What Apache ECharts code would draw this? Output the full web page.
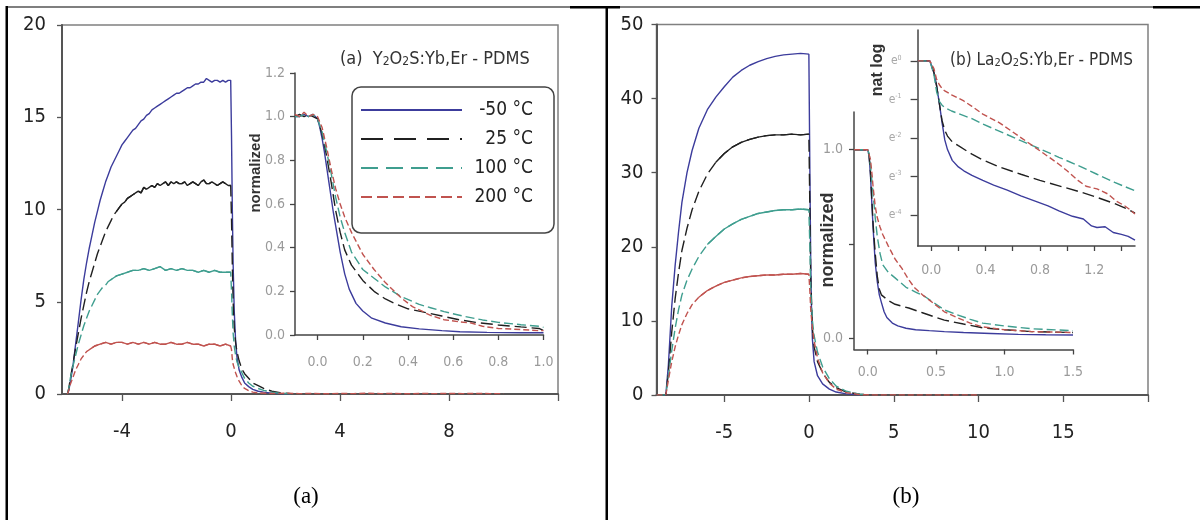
<!DOCTYPE html>
<html>
<head>
<meta charset="utf-8">
<script src="https://cdn.jsdelivr.net/npm/echarts@6/dist/echarts.min.js"></script>
<style>
  html, body { margin: 0; padding: 0; background: #fff; }
  #chart { width: 1200px; height: 520px; }
</style>
</head>
<body>
<div id="chart"></div>
<script>
// ---- Series labels and tick positions ----
const seriesNames = ['-50 °C', '25 °C', '100 °C', '200 °C'];
const aMainXTicks = [-4, 0, 4, 8];
const aMainYTicks = [0, 5, 10, 15, 20];
const aInsetXTicks = [0.0, 0.2, 0.4, 0.6, 0.8, 1.0];
const aInsetYTicks = [0.0, 0.2, 0.4, 0.6, 0.8, 1.0, 1.2];
const bMainXTicks = [-5, 0, 5, 10, 15];
const bMainYTicks = [0, 10, 20, 30, 40, 50];
const bNormXTicks = [0.0, 0.5, 1.0, 1.5];
const bNormYTicks = [0.0, 0.5, 1.0];
const bNormYLabels = [0.0, 1.0];
const bLogXTicks = [0.0, 0.2, 0.4, 0.6, 0.8, 1.0, 1.2, 1.4];
const bLogXLabels = [0.0, 0.4, 0.8, 1.2];
const bLogYTicks = [0, -1, -2, -3, -4];

// ---- (a) Y2O2S:Yb,Er - PDMS : intensity vs time ----
const aMainM50 = [[-6.0,0],[-5.95,0.2],[-5.9,0.6],[-5.8,1.5],[-5.7,2.7],[-5.6,3.9],[-5.5,5.1],[-5.4,6.2],[-5.3,7.1],[-5.2,7.9],[-5.1,8.6],[-5.0,9.3],[-4.9,9.9],[-4.8,10.5],[-4.7,11.0],[-4.6,11.5],[-4.5,11.9],[-4.4,12.3],[-4.3,12.6],[-4.2,12.9],[-4.1,13.2],[-4.0,13.5],[-3.9,13.7],[-3.8,13.9],[-3.7,14.1],[-3.6,14.3],[-3.5,14.4],[-3.4,14.6],[-3.3,14.8],[-3.2,14.9],[-3.1,15.1],[-3.0,15.2],[-2.9,15.4],[-2.8,15.5],[-2.7,15.6],[-2.6,15.7],[-2.5,15.8],[-2.4,15.9],[-2.3,16.0],[-2.2,16.1],[-2.1,16.2],[-2.0,16.3],[-1.9,16.3],[-1.8,16.4],[-1.7,16.5],[-1.6,16.6],[-1.5,16.6],[-1.4,16.7],[-1.3,16.8],[-1.2,16.8],[-1.1,16.9],[-1.0,16.9],[-0.9,17.1],[-0.8,17.0],[-0.7,16.9],[-0.6,17.0],[-0.5,17.0],[-0.4,16.9],[-0.3,17.0],[-0.2,16.9],[-0.1,17.0],[-0.01,17.0],[0.02,14.0],[0.05,10.0],[0.08,7.0],[0.12,4.5],[0.17,2.9],[0.22,2.0],[0.3,1.3],[0.4,0.9],[0.5,0.6],[0.65,0.4],[0.8,0.25],[1.0,0.15],[1.2,0.1],[1.5,0.05],[1.8,0.02],[2.2,0.01]];
const aMain25 = [[-6.0,0],[-5.95,0.3],[-5.9,0.8],[-5.8,1.6],[-5.7,2.5],[-5.6,3.3],[-5.5,4.1],[-5.4,4.8],[-5.3,5.5],[-5.2,6.1],[-5.1,6.6],[-5.0,7.1],[-4.9,7.6],[-4.8,8.0],[-4.7,8.4],[-4.6,8.8],[-4.5,9.1],[-4.4,9.4],[-4.3,9.7],[-4.2,9.9],[-4.1,10.1],[-4.0,10.3],[-3.9,10.4],[-3.8,10.6],[-3.7,10.7],[-3.6,10.8],[-3.5,10.9],[-3.4,11.0],[-3.3,10.9],[-3.2,11.2],[-3.1,11.1],[-3.0,11.2],[-2.9,11.3],[-2.8,11.2],[-2.7,11.4],[-2.6,11.3],[-2.5,11.4],[-2.4,11.5],[-2.3,11.3],[-2.2,11.5],[-2.1,11.4],[-2.0,11.5],[-1.9,11.4],[-1.8,11.4],[-1.7,11.5],[-1.6,11.3],[-1.5,11.4],[-1.4,11.5],[-1.3,11.4],[-1.2,11.3],[-1.1,11.5],[-1.0,11.6],[-0.9,11.4],[-0.8,11.4],[-0.7,11.5],[-0.6,11.4],[-0.5,11.3],[-0.4,11.4],[-0.3,11.5],[-0.2,11.4],[-0.1,11.3],[-0.01,11.3],[0.02,9.5],[0.05,7.0],[0.08,5.0],[0.12,3.6],[0.17,2.8],[0.22,2.3],[0.3,1.8],[0.4,1.35],[0.5,1.1],[0.65,0.85],[0.8,0.6],[1.0,0.45],[1.2,0.3],[1.5,0.15],[1.8,0.07],[2.2,0.02]];
const aMain100 = [[-6.0,0],[-5.95,0.3],[-5.9,0.8],[-5.8,1.5],[-5.7,2.1],[-5.6,2.7],[-5.5,3.2],[-5.4,3.7],[-5.3,4.1],[-5.2,4.5],[-5.1,4.8],[-5.0,5.1],[-4.9,5.4],[-4.8,5.6],[-4.7,5.8],[-4.6,5.9],[-4.5,6.1],[-4.4,6.2],[-4.3,6.3],[-4.2,6.4],[-4.0,6.5],[-3.8,6.6],[-3.6,6.7],[-3.4,6.7],[-3.2,6.8],[-3.0,6.7],[-2.8,6.8],[-2.6,6.9],[-2.4,6.7],[-2.2,6.8],[-2.0,6.7],[-1.8,6.8],[-1.6,6.7],[-1.4,6.7],[-1.2,6.6],[-1.0,6.7],[-0.8,6.6],[-0.6,6.7],[-0.4,6.6],[-0.2,6.6],[-0.01,6.6],[0.02,5.6],[0.05,4.3],[0.08,3.3],[0.12,2.6],[0.17,2.1],[0.22,1.75],[0.3,1.45],[0.4,1.15],[0.5,0.85],[0.65,0.6],[0.8,0.42],[1.0,0.3],[1.2,0.2],[1.5,0.1],[1.8,0.04],[2.2,0.01]];
const aMain200 = [[-6.0,0],[-5.95,0.2],[-5.9,0.5],[-5.8,0.9],[-5.7,1.3],[-5.6,1.6],[-5.5,1.9],[-5.4,2.1],[-5.3,2.3],[-5.2,2.4],[-5.1,2.5],[-5.0,2.6],[-4.8,2.7],[-4.6,2.8],[-4.4,2.7],[-4.2,2.8],[-4.0,2.8],[-3.8,2.7],[-3.6,2.8],[-3.4,2.7],[-3.2,2.8],[-3.0,2.7],[-2.8,2.8],[-2.6,2.7],[-2.4,2.7],[-2.2,2.8],[-2.0,2.7],[-1.8,2.7],[-1.6,2.8],[-1.4,2.7],[-1.2,2.7],[-1.0,2.6],[-0.8,2.7],[-0.6,2.7],[-0.4,2.6],[-0.2,2.7],[-0.01,2.6],[0.02,2.4],[0.05,1.9],[0.08,1.6],[0.12,1.4],[0.17,1.15],[0.22,0.95],[0.3,0.7],[0.4,0.45],[0.5,0.3],[0.65,0.18],[0.8,0.1],[1.0,0.06],[1.5,0.03],[2.0,0.04],[2.5,0.02],[3.0,0.03],[3.5,0.01],[4.0,0.03],[4.5,0.02],[5.0,0.04],[5.5,0.02],[6.0,0.03],[6.5,0.01],[7.0,0.03],[7.5,0.02],[8.0,0.03],[8.5,0.02],[9.0,0.03],[9.5,0.02],[10.0,0.02]];

// (a) inset : normalized decay
const aNormM50 = [[-0.1,1.0],[-0.08,1.0],[-0.06,1.01],[-0.04,1.0],[-0.02,1.01],[0.0,0.99],[0.01,0.95],[0.02,0.9],[0.03,0.84],[0.04,0.77],[0.05,0.7],[0.06,0.63],[0.07,0.56],[0.085,0.47],[0.1,0.38],[0.12,0.28],[0.14,0.21],[0.17,0.145],[0.2,0.11],[0.24,0.077],[0.3,0.055],[0.37,0.038],[0.45,0.028],[0.55,0.02],[0.63,0.015],[0.75,0.012],[0.9,0.01],[1.0,0.01]];
const aNorm25 = [[-0.1,1.0],[-0.08,1.01],[-0.06,1.0],[-0.04,1.01],[-0.02,1.0],[0.0,0.99],[0.02,0.92],[0.04,0.82],[0.06,0.7],[0.08,0.57],[0.1,0.47],[0.12,0.39],[0.15,0.32],[0.2,0.25],[0.25,0.2],[0.3,0.165],[0.35,0.14],[0.4,0.12],[0.46,0.107],[0.55,0.087],[0.63,0.069],[0.7,0.058],[0.8,0.046],[0.9,0.037],[0.98,0.03],[1.0,0.02]];
const aNorm100 = [[-0.1,1.0],[-0.08,1.0],[-0.06,1.01],[-0.04,1.0],[-0.02,1.01],[0.0,0.99],[0.02,0.93],[0.04,0.84],[0.06,0.74],[0.08,0.63],[0.1,0.54],[0.12,0.47],[0.15,0.38],[0.2,0.3],[0.25,0.26],[0.3,0.22],[0.37,0.176],[0.45,0.14],[0.5,0.125],[0.56,0.107],[0.65,0.085],[0.73,0.069],[0.8,0.058],[0.9,0.047],[0.98,0.04],[1.0,0.035]];
const aNorm200 = [[-0.1,1.01],[-0.08,1.0],[-0.06,1.02],[-0.04,1.0],[-0.02,1.01],[0.0,1.0],[0.02,0.95],[0.04,0.86],[0.06,0.76],[0.08,0.67],[0.1,0.6],[0.12,0.54],[0.15,0.47],[0.2,0.37],[0.25,0.3],[0.3,0.24],[0.37,0.17],[0.42,0.13],[0.46,0.11],[0.5,0.09],[0.56,0.07],[0.63,0.06],[0.68,0.055],[0.73,0.04],[0.8,0.03],[0.9,0.025],[0.98,0.02],[1.0,0.02]];

// ---- (b) La2O2S:Yb,Er - PDMS : intensity vs time ----
const bMainM50 = [[-9.0,0],[-8.6,0],[-8.45,0],[-8.3,4],[-8.1,12],[-7.9,17.5],[-7.7,22],[-7.5,26],[-7.2,30],[-6.9,33],[-6.5,36],[-6.0,38.5],[-5.5,40.2],[-5.0,41.6],[-4.5,42.9],[-4.0,43.8],[-3.5,44.5],[-3.0,45.0],[-2.5,45.4],[-2.0,45.7],[-1.5,45.9],[-1.0,46.0],[-0.5,46.1],[-0.01,46.0],[0.05,30],[0.1,18],[0.15,11],[0.2,7.5],[0.3,4.5],[0.5,2.6],[0.8,1.5],[1.2,0.8],[1.6,0.4],[2.2,0.15],[3.0,0.03]];
const bMain25 = [[-9.0,0],[-8.45,0],[-8.3,3],[-8.1,8.5],[-7.9,13],[-7.7,16.5],[-7.5,19.5],[-7.2,22.5],[-6.9,25],[-6.5,27.5],[-6.0,29.8],[-5.5,31.4],[-5.0,32.6],[-4.5,33.5],[-4.0,34.1],[-3.5,34.5],[-3.0,34.8],[-2.5,35.0],[-2.0,35.1],[-1.5,35.1],[-1.0,35.2],[-0.5,35.1],[-0.01,35.2],[0.05,25],[0.1,16],[0.2,9],[0.3,6.5],[0.5,4.5],[0.8,3.0],[1.2,1.7],[1.6,1.0],[2.2,0.4],[3.0,0.1],[3.5,0.02]];
const bMain100 = [[-9.0,0],[-8.45,0],[-8.3,2.5],[-8.1,6],[-7.9,9],[-7.7,11.5],[-7.5,13.5],[-7.2,15.5],[-6.9,17],[-6.5,18.7],[-6.0,20.3],[-5.5,21.4],[-5.0,22.4],[-4.5,23.1],[-4.0,23.7],[-3.5,24.1],[-3.0,24.5],[-2.5,24.7],[-2.0,24.9],[-1.5,25.0],[-1.0,25.0],[-0.5,25.1],[-0.01,25.0],[0.05,20],[0.1,14],[0.2,10],[0.3,8],[0.5,5.8],[0.8,3.8],[1.2,2.2],[1.6,1.2],[2.2,0.5],[3.0,0.1],[3.5,0.02]];
const bMain200 = [[-9.0,0],[-8.45,0],[-8.3,2],[-8.1,4.5],[-7.9,6.5],[-7.7,8.1],[-7.5,9.5],[-7.2,11],[-6.9,12.2],[-6.5,13.2],[-6.0,14.1],[-5.5,14.7],[-5.0,15.2],[-4.5,15.5],[-4.0,15.8],[-3.5,16.0],[-3.0,16.1],[-2.5,16.2],[-2.0,16.2],[-1.5,16.3],[-1.0,16.3],[-0.5,16.4],[-0.01,16.3],[0.05,14],[0.1,11.5],[0.2,9],[0.3,7.3],[0.5,5],[0.8,3],[1.2,1.6],[1.6,0.8],[2.2,0.3],[3.0,0.05],[4.0,0],[5.0,0.02],[6.0,0],[7.0,0.02],[8.0,0],[9.0,0.02],[10.0,0]];

// (b) lower inset : normalized decay
const bNormM50 = [[-0.1,1.0],[-0.05,1.0],[0.0,1.0],[0.01,0.97],[0.02,0.87],[0.03,0.72],[0.04,0.58],[0.055,0.4],[0.07,0.3],[0.085,0.23],[0.1,0.19],[0.12,0.14],[0.14,0.11],[0.18,0.08],[0.22,0.065],[0.28,0.053],[0.35,0.045],[0.45,0.04],[0.56,0.035],[0.7,0.03],[0.9,0.025],[1.1,0.02],[1.3,0.018],[1.5,0.017]];
const bNorm25 = [[-0.1,1.0],[-0.05,1.0],[0.0,1.0],[0.01,0.97],[0.02,0.88],[0.03,0.74],[0.04,0.6],[0.055,0.45],[0.07,0.33],[0.085,0.26],[0.1,0.23],[0.15,0.2],[0.2,0.18],[0.3,0.16],[0.4,0.135],[0.5,0.11],[0.56,0.096],[0.7,0.075],[0.84,0.055],[1.0,0.045],[1.2,0.035],[1.5,0.03]];
const bNorm100 = [[-0.1,1.0],[-0.05,1.0],[0.0,1.0],[0.01,0.98],[0.02,0.92],[0.03,0.84],[0.04,0.76],[0.055,0.64],[0.07,0.54],[0.09,0.45],[0.11,0.39],[0.15,0.35],[0.2,0.32],[0.28,0.27],[0.35,0.245],[0.42,0.22],[0.5,0.18],[0.56,0.15],[0.65,0.125],[0.75,0.1],[0.84,0.08],[1.0,0.065],[1.2,0.05],[1.5,0.04]];
const bNorm200 = [[-0.1,1.0],[-0.05,1.0],[0.0,1.0],[0.01,0.99],[0.02,0.95],[0.03,0.88],[0.04,0.8],[0.055,0.7],[0.07,0.64],[0.09,0.59],[0.11,0.55],[0.15,0.49],[0.2,0.42],[0.25,0.37],[0.3,0.31],[0.34,0.27],[0.4,0.23],[0.49,0.18],[0.56,0.14],[0.65,0.11],[0.75,0.08],[0.84,0.06],[1.0,0.045],[1.2,0.035],[1.5,0.03]];

// (b) upper inset : natural log of normalized decay
const bLogM50 = [[-0.1,0],[-0.05,0],[-0.01,0],[0.0,-0.05],[0.02,-0.3],[0.04,-0.65],[0.06,-1.1],[0.08,-1.6],[0.1,-2.05],[0.12,-2.3],[0.155,-2.58],[0.2,-2.75],[0.24,-2.85],[0.3,-2.97],[0.38,-3.1],[0.46,-3.22],[0.56,-3.35],[0.66,-3.5],[0.76,-3.63],[0.86,-3.76],[0.94,-3.89],[1.04,-4.03],[1.12,-4.1],[1.18,-4.28],[1.22,-4.32],[1.28,-4.3],[1.34,-4.45],[1.4,-4.5],[1.45,-4.55],[1.5,-4.65]];
const bLog25 = [[-0.1,0],[-0.05,0],[-0.01,0],[0.0,-0.05],[0.02,-0.3],[0.04,-0.65],[0.06,-1.1],[0.08,-1.55],[0.1,-1.8],[0.12,-1.95],[0.155,-2.1],[0.2,-2.2],[0.3,-2.42],[0.38,-2.57],[0.5,-2.75],[0.66,-2.94],[0.8,-3.1],[0.94,-3.24],[1.1,-3.4],[1.22,-3.54],[1.35,-3.7],[1.45,-3.85],[1.5,-3.95]];
const bLog100 = [[-0.1,0],[-0.05,0],[-0.01,0],[0.0,-0.05],[0.02,-0.35],[0.04,-0.8],[0.06,-1.05],[0.08,-1.15],[0.1,-1.21],[0.15,-1.3],[0.24,-1.42],[0.3,-1.5],[0.38,-1.64],[0.5,-1.82],[0.66,-2.07],[0.8,-2.28],[0.94,-2.5],[1.1,-2.74],[1.22,-2.94],[1.35,-3.15],[1.5,-3.37]];
const bLog200 = [[-0.1,0],[-0.05,0],[-0.01,0],[0.0,-0.03],[0.02,-0.2],[0.04,-0.48],[0.06,-0.62],[0.08,-0.72],[0.1,-0.78],[0.15,-0.88],[0.24,-1.04],[0.3,-1.18],[0.38,-1.38],[0.5,-1.6],[0.66,-1.99],[0.8,-2.33],[0.94,-2.68],[1.0,-2.85],[1.08,-3.1],[1.14,-3.25],[1.22,-3.32],[1.3,-3.45],[1.36,-3.63],[1.42,-3.75],[1.46,-3.85],[1.5,-3.97]];

// ---- Styling ----
const NARROW = "'Liberation Sans Narrow', 'Arial Narrow', 'DejaVu Sans Condensed', sans-serif";
const SANS = "'Liberation Sans', Arial, sans-serif";
const lineColors = ['#3c3c9c', '#202020', '#3f9e8f', '#c0534f'];
const lineDashes = ['solid', [12, 5], [9, 4], [6, 3]];
const legendDashes = ['solid', [22, 11], [17, 8], [11, 5]];

function curve(k, data, axis, solid) {
  return {
    type: 'line', name: seriesNames[k], data: data,
    xAxisIndex: axis, yAxisIndex: axis,
    symbol: 'none', silent: true, animation: false, z: 3,
    lineStyle: { color: lineColors[k], width: 1.4, type: solid ? 'solid' : lineDashes[k] },
    itemStyle: { color: lineColors[k] }
  };
}

// The noisy plateau of each steady-state trace reads as a continuous line,
// so the flat part (from the given time up to switch-off) is traced solid on top.
function plateau(k, data, axis, from) {
  return curve(k, data.filter(p => p[0] >= from && p[0] <= 0), axis, true);
}

function valueAxis(o) {
  return {
    type: 'value', gridIndex: o.grid, min: o.min, max: o.max,
    splitLine: { show: false },
    axisLine: { show: true, onZero: false, lineStyle: { color: o.lineColor || '#555', width: o.lineWidth || 2 } },
    axisTick: { show: true, inside: false, length: o.tickLen || 5, customValues: o.ticks,
      lineStyle: { color: o.lineColor || '#555', width: 1.3 } },
    axisLabel: { show: true, customValues: o.labels || o.ticks, margin: o.margin,
      fontFamily: o.font || NARROW, fontSize: o.fontSize, color: o.labelColor || '#222',
      formatter: o.formatter, rich: o.rich }
  };
}

const fmt1 = v => v.toFixed(1);

const chart = echarts.init(document.getElementById('chart'), null, { renderer: 'canvas' });

const option = {
  animation: false,
  backgroundColor: '#ffffff',
  grid: [
    { left: 62, top: 25, width: 496, height: 369, show: true, borderColor: '#808080', borderWidth: 1.5 },
    { left: 295, top: 73, width: 248.5, height: 262 },
    { left: 656.5, top: 24.5, width: 491.5, height: 370.5, show: true, borderColor: '#808080', borderWidth: 1.5 },
    { left: 854, top: 112, width: 219, height: 237.5 },
    { left: 917.6, top: 30, width: 217.4, height: 216 }
  ],
  xAxis: [
    valueAxis({ grid: 0, min: -6.2, max: 12, ticks: [-4, 0, 4, 8, 12], labels: aMainXTicks, margin: 28, fontSize: 20, tickLen: 7 }),
    valueAxis({ grid: 1, min: -0.1, max: 1.0, ticks: aInsetXTicks, margin: 20, fontSize: 14, labelColor: '#9a9a9a', lineColor: '#444', lineWidth: 1.5, formatter: fmt1 }),
    valueAxis({ grid: 2, min: -9, max: 20, ticks: [-5, 0, 5, 10, 15, 20], labels: bMainXTicks, margin: 28, fontSize: 20, tickLen: 7 }),
    valueAxis({ grid: 3, min: -0.1, max: 1.5, ticks: bNormXTicks, margin: 16, fontSize: 14, labelColor: '#9a9a9a', lineColor: '#444', lineWidth: 1.5, formatter: fmt1 }),
    valueAxis({ grid: 4, min: -0.1, max: 1.5, ticks: bLogXTicks, labels: bLogXLabels, margin: 17, fontSize: 14, labelColor: '#9a9a9a', lineColor: '#444', lineWidth: 1.5, formatter: fmt1 })
  ],
  yAxis: [
    valueAxis({ grid: 0, min: 0, max: 20, ticks: aMainYTicks, margin: 16, fontSize: 20 }),
    valueAxis({ grid: 1, min: 0, max: 1.2, ticks: aInsetYTicks, margin: 10, fontSize: 14, labelColor: '#9a9a9a', lineColor: '#444', lineWidth: 1.5, formatter: fmt1 }),
    valueAxis({ grid: 2, min: 0, max: 50, ticks: bMainYTicks, margin: 13, fontSize: 20 }),
    valueAxis({ grid: 3, min: -0.06, max: 1.2, ticks: bNormYTicks, labels: bNormYLabels, margin: 11, fontSize: 14, labelColor: '#9a9a9a', lineColor: '#444', lineWidth: 1.5, formatter: fmt1 }),
    valueAxis({ grid: 4, min: -4.8, max: 0.8, ticks: bLogYTicks, margin: 16, fontSize: 12, tickLen: 7, labelColor: '#a8a8a8', lineColor: '#444', lineWidth: 1.5,
      formatter: v => 'e{s|' + v + '}',
      rich: { s: { fontSize: 7, color: '#a8a8a8', fontFamily: NARROW, verticalAlign: 'top', padding: [0, 0, 6, 0] } } })
  ],
  title: [
    { text: '(a)  Y{s|2}O{s|2}S:Yb,Er - PDMS', left: 335, top: 45,
      textStyle: { fontFamily: NARROW, fontSize: 18, fontWeight: 'normal', color: '#333',
        rich: { s: { fontFamily: NARROW, fontSize: 12, color: '#333', verticalAlign: 'bottom' } } } },
    { text: '(b) La{s|2}O{s|2}S:Yb,Er - PDMS', left: 945, top: 47,
      textStyle: { fontFamily: NARROW, fontSize: 17, fontWeight: 'normal', color: '#333',
        rich: { s: { fontFamily: NARROW, fontSize: 11, color: '#333', verticalAlign: 'bottom' } } } }
  ],
  legend: {
    show: true, orient: 'vertical', left: 352, top: 87,
    data: seriesNames.map((name, k) => ({ name: name, lineStyle: { type: legendDashes[k], width: 2 } })),
    padding: [13, 21, 26, 8],
    itemWidth: 101, itemHeight: 20, itemGap: 9,
    borderColor: '#444', borderWidth: 1.5, borderRadius: 9,
    backgroundColor: '#ffffff',
    selectedMode: false,
    lineStyle: { width: 2 },
    itemStyle: { opacity: 0, borderWidth: 0 },
    formatter: name => '{w|' + name + '}',
    textStyle: { fontFamily: NARROW, fontSize: 19, color: '#222', lineHeight: 20,
      rich: { w: { fontFamily: NARROW, fontSize: 19, color: '#222', width: 66, align: 'right', lineHeight: 20 } } }
  },
  graphic: [
    // table rules around the two panels
    { type: 'rect', silent: true, shape: { x: 6, y: 6.5, width: 1194, height: 1 }, style: { fill: '#000' } },
    { type: 'rect', silent: true, shape: { x: 570, y: 6, width: 50, height: 2.5 }, style: { fill: '#000' } },
    { type: 'rect', silent: true, shape: { x: 1153, y: 6, width: 47, height: 2.5 }, style: { fill: '#000' } },
    { type: 'rect', silent: true, shape: { x: 5.5, y: 6, width: 2.5, height: 514 }, style: { fill: '#000' } },
    { type: 'rect', silent: true, shape: { x: 605.5, y: 6, width: 2.5, height: 514 }, style: { fill: '#000' } },
    // panel captions
    { type: 'text', silent: true, x: 306, y: 497, style: { text: '(a)', font: "23px 'Liberation Serif', serif", fill: '#000', align: 'center', verticalAlign: 'middle' } },
    { type: 'text', silent: true, x: 906, y: 497, style: { text: '(b)', font: "23px 'Liberation Serif', serif", fill: '#000', align: 'center', verticalAlign: 'middle' } },
    // inset axis titles
    { type: 'text', silent: true, x: 256, y: 173, rotation: Math.PI / 2, style: { text: 'normalized', font: "bold 15px " + SANS, fill: '#333', align: 'center', verticalAlign: 'middle' } },
    { type: 'text', silent: true, x: 828, y: 240, rotation: Math.PI / 2, style: { text: 'normalized', font: "bold 18px " + SANS, fill: '#333', align: 'center', verticalAlign: 'middle' } },
    { type: 'text', silent: true, x: 878, y: 70, rotation: Math.PI / 2, style: { text: 'nat log', font: "bold 16px " + SANS, fill: '#333', align: 'center', verticalAlign: 'middle' } }
  ],
  series: [
    curve(0, aMainM50, 0), curve(1, aMain25, 0), curve(2, aMain100, 0), curve(3, aMain200, 0),
    plateau(1, aMain25, 0, -4.2), plateau(2, aMain100, 0, -4.4), plateau(3, aMain200, 0, -5.2),
    curve(0, aNormM50, 1), curve(1, aNorm25, 1), curve(2, aNorm100, 1), curve(3, aNorm200, 1),
    curve(0, bMainM50, 2), curve(1, bMain25, 2), curve(2, bMain100, 2), curve(3, bMain200, 2),
    plateau(1, bMain25, 2, -5.5), plateau(2, bMain100, 2, -6.0), plateau(3, bMain200, 2, -6.5),
    curve(0, bNormM50, 3), curve(1, bNorm25, 3), curve(2, bNorm100, 3), curve(3, bNorm200, 3),
    curve(0, bLogM50, 4), curve(1, bLog25, 4), curve(2, bLog100, 4), curve(3, bLog200, 4)
  ]
};

chart.setOption(option);
</script>
</body>
</html>
